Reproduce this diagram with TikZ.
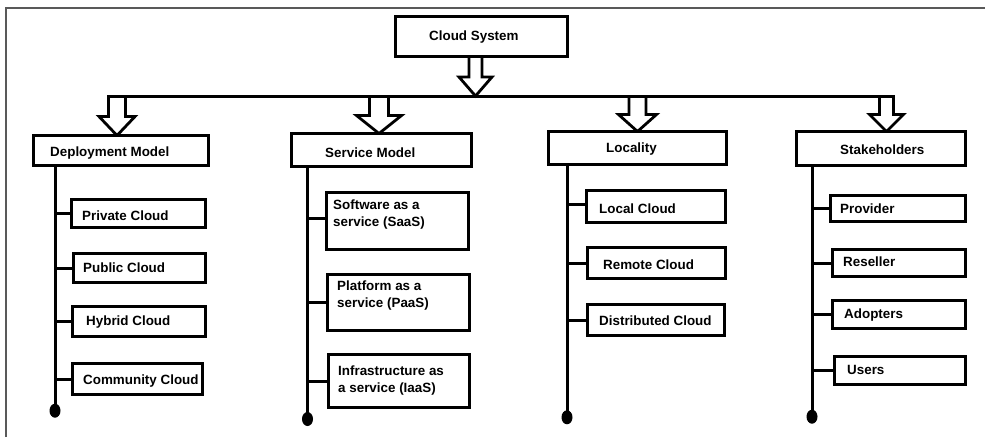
\documentclass[tikz,border=0pt]{standalone}
\usepackage{fontspec}
\setmainfont{Liberation Sans}
\usetikzlibrary{calc,shapes.geometric}
\tikzset{
  box/.style={draw=black, line width=2.8pt, fill=white, inner sep=0pt},
  txt/.style={font=\bfseries\fontsize{13.4}{16.7}\selectfont, inner sep=0pt, text=black},
  conn/.style={line width=3pt, draw=black},
  arr/.style={line width=2.8pt, draw=black, fill=white, line join=miter},
  dotn/.style={ellipse, fill=black, minimum width=11pt, minimum height=14pt, inner sep=0pt},
  framel/.style={line width=1.8pt, draw=black!65}
}
% #1 start coordinate, #2 length, #3 head length, #4 shaft half width, #5 head half width
\newcommand\blockarr[5]{%
  \draw[arr] ($(#1)+(-#4,0)$) -- ($(#1)+(-#4,#2-#3)$) -- ($(#1)+(-#5,#2-#3)$)
    -- ($(#1)+(0,#2)$) -- ($(#1)+(#5,#2-#3)$) -- ($(#1)+(#4,#2-#3)$) -- ($(#1)+(#4,0)$);}
\begin{document}
\begin{tikzpicture}[x=1pt,y=-1pt]
\useasboundingbox (0,0) rectangle (985,437);
\fill[white] (0,0) rectangle (985,437);
% frame
\draw[framel] (6,437) -- (6,8) -- (985,8);

% header box position for the top arrow
\path (481.5,36.5) coordinate (csc);
\coordinate (csa) at ($(csc)+(-6,20)$);
\coordinate (adm) at (117,96);
\coordinate (asm) at (379,96);
\coordinate (alo) at (637.5,96);
\coordinate (ast) at (886.5,96);

% block arrows
\blockarr{csa}{39.5}{19}{6.5}{16.5}
\blockarr{adm}{39.5}{19}{8.5}{18}
\blockarr{asm}{37.5}{18}{9.5}{22.5}
\blockarr{alo}{35.5}{17}{8.5}{19}
\blockarr{ast}{35.5}{17}{7}{17}

% bar
\draw[conn, line cap=rect] ($(adm)+(-8.5,0)$) -- ($(ast)+(7,0)$);

% headers
\node[box, minimum width=172pt, minimum height=40pt] (cs) at (csc) {};
\node[txt, anchor=base west] (cst) at (429,40) {Cloud System};
\node[box, minimum width=175pt, minimum height=30pt] (dm) at (121,150.5) {};
\node[txt, anchor=base west] (dmt) at (50,156) {Deployment Model};
\node[box, minimum width=180pt, minimum height=33pt] (sm) at (381.5,150) {};
\node[txt, anchor=base west] (smt) at (325,157.3) {Service Model};
\node[box, minimum width=178pt, minimum height=33pt] (lo) at (637.5,148) {};
\node[txt, anchor=base west] (lot) at (606,152) {Locality};
\node[box, minimum width=169pt, minimum height=34pt] (st) at (881,148.5) {};
\node[txt, anchor=base west] (stt) at (840,154) {Stakeholders};

% dots
\node[dotn] (ddm) at (55,410.7) {};
\node[dotn] (dsm) at (307.5,419) {};
\node[dotn] (dlo) at (567,417.3) {};
\node[dotn] (dst) at (812,416.7) {};

% vertical lines
\draw[conn] (ddm.center) -- (ddm.center |- dm.south);
\draw[conn] (dsm.center) -- (dsm.center |- sm.south);
\draw[conn] (dlo.center) -- (dlo.center |- lo.south);
\draw[conn] (dst.center) -- (dst.center |- st.south);

% deployment subs
\node[box, minimum width=134pt, minimum height=28pt] (pc) at (138.5,213.5) {};
\node[box, minimum width=132pt, minimum height=29pt] (puc) at (139.5,268) {};
\node[box, minimum width=133pt, minimum height=30pt] (hc) at (139,321.5) {};
\node[box, minimum width=130pt, minimum height=31pt] (cc) at (137.5,379) {};
\node[txt, anchor=base west] (pct) at (82,220) {Private Cloud};
\node[txt, anchor=base west] (puct) at (83,272.7) {Public Cloud};
\node[txt, anchor=base west] (hct) at (86,325.7) {Hybrid Cloud};
\node[txt, anchor=base west] (cct) at (83,384) {Community Cloud};
\foreach \n in {pc,puc,hc,cc} \draw[conn] (\n.west) -- (\n.west -| ddm.center);

% service subs
\node[box, minimum width=142pt, minimum height=57pt] (saas) at (397.5,221) {};
\node[box, minimum width=142pt, minimum height=56pt] (paas) at (398.5,302.5) {};
\node[box, minimum width=141pt, minimum height=53pt] (iaas) at (399,381) {};
\node[txt, anchor=north west, align=left] (saast) at (333,200) {Software as a\\service (SaaS)};
\node[txt, anchor=north west, align=left] (paast) at (337,281) {Platform as a\\service (PaaS)};
\node[txt, anchor=north west, align=left] (iaast) at (338,366) {Infrastructure as\\a service (IaaS)};
\coordinate (saasw) at ($(saas.west)+(0,-3)$);
\draw[conn] (saasw) -- (saasw -| dsm.center);
\foreach \n in {paas,iaas} \draw[conn] (\n.west) -- (\n.west -| dsm.center);

% locality subs
\node[box, minimum width=139pt, minimum height=32pt] (lc) at (656,206.5) {};
\node[box, minimum width=138pt, minimum height=31pt] (rc) at (656.5,263) {};
\node[box, minimum width=137pt, minimum height=31pt] (dc) at (656,320) {};
\node[txt, anchor=base west] (lct) at (599,213.7) {Local Cloud};
\node[txt, anchor=base west] (rct) at (603,269.7) {Remote Cloud};
\node[txt, anchor=base west] (dct) at (599,325.3) {Distributed Cloud};
\coordinate (lcw) at ($(lc.west)+(0,-2)$);
\draw[conn] (lcw) -- (lcw -| dlo.center);
\foreach \n in {rc,dc} \draw[conn] (\n.west) -- (\n.west -| dlo.center);

% stakeholder subs
\node[box, minimum width=135pt, minimum height=26pt] (pr) at (898,208.5) {};
\node[box, minimum width=133pt, minimum height=27pt] (re) at (899,263) {};
\node[box, minimum width=133pt, minimum height=28pt] (ad) at (899,314.5) {};
\node[box, minimum width=131pt, minimum height=28pt] (us) at (900,370.5) {};
\node[txt, anchor=base west] (prt) at (840,213) {Provider};
\node[txt, anchor=base west] (ret) at (843,266.3) {Reseller};
\node[txt, anchor=base west] (adt) at (844,318.7) {Adopters};
\node[txt, anchor=base west] (ust) at (847,374.3) {Users};
\foreach \n in {pr,re,ad,us} \draw[conn] (\n.west) -- (\n.west -| dst.center);
\end{tikzpicture}
\end{document}
